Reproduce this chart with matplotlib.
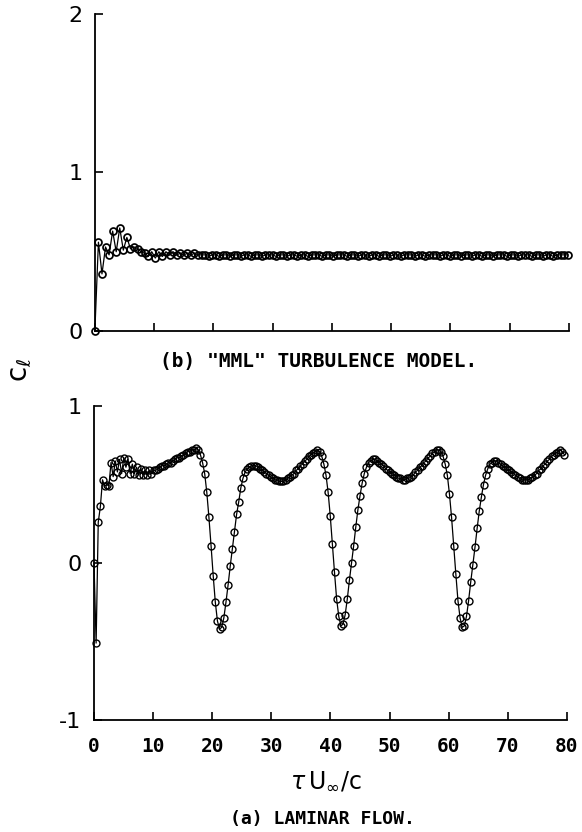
"""Lift coefficient history c_l vs tau U_inf / c.

Top panel: (b) "MML" turbulence model, bottom panel: (a) laminar flow.
Values were read off the printed figure (one entry per plotted marker).
"""

import matplotlib

matplotlib.use("Agg")
import matplotlib.pyplot as plt
import numpy as np

# the original prints "-1" with a plain hyphen
plt.rcParams["axes.unicode_minus"] = False

# sample spacing (in tau U_inf / c) between consecutive markers
DT_TURB = 0.6
DT_LAM = 0.36

# (b) MML turbulence model: start-up zig-zag, then flat at ~0.48
CL_TURB = [
    0.00, 0.56, 0.36, 0.53, 0.48, 0.63, 0.50, 0.65, 0.51, 0.59,
    0.52, 0.53, 0.52, 0.50, 0.49, 0.47, 0.50, 0.46, 0.50, 0.47,
    0.50, 0.48, 0.50, 0.48, 0.49, 0.48, 0.49, 0.48, 0.49, 0.48,
    0.48, 0.48, 0.47, 0.48, 0.48, 0.47, 0.48, 0.48, 0.47, 0.48, 0.48, 0.47, 0.48,
    0.48, 0.47, 0.48, 0.48, 0.47, 0.48, 0.48, 0.48, 0.47, 0.48, 0.48, 0.47, 0.48,
    0.48, 0.47, 0.48, 0.48, 0.47, 0.48, 0.48, 0.48, 0.47, 0.48, 0.48, 0.47, 0.48,
    0.48, 0.48, 0.47, 0.48, 0.48, 0.47, 0.48, 0.48, 0.47, 0.48, 0.48, 0.47, 0.48,
    0.48, 0.47, 0.48, 0.48, 0.47, 0.48, 0.48, 0.48, 0.47, 0.48, 0.48, 0.47, 0.48,
    0.48, 0.48, 0.47, 0.48, 0.48, 0.47, 0.48, 0.48, 0.47, 0.48, 0.48, 0.47, 0.48,
    0.48, 0.47, 0.48, 0.48, 0.47, 0.48, 0.48, 0.48, 0.47, 0.48, 0.48, 0.47, 0.48,
    0.48, 0.48, 0.47, 0.48, 0.48, 0.47, 0.48, 0.48, 0.47, 0.48, 0.48, 0.48, 0.48,
]

# (a) laminar flow: start-up, then periodic shedding (period ~20.5)
CL_LAM = [
    # start-up, t = 0 .. 17.3
    0.00, -0.51, 0.26, 0.36, 0.53, 0.49, 0.50, 0.49, 0.64, 0.55,
    0.65, 0.58, 0.66, 0.57, 0.67, 0.61, 0.66, 0.57, 0.63, 0.57,
    0.61, 0.56, 0.60, 0.56, 0.59, 0.56, 0.59, 0.57, 0.59, 0.59,
    0.60, 0.61, 0.62, 0.62, 0.63, 0.64, 0.64, 0.65, 0.66, 0.67,
    0.67, 0.68, 0.69, 0.70, 0.71, 0.71, 0.72, 0.72, 0.73,
    # first cycle
    0.72, 0.69, 0.64, 0.57, 0.45, 0.29, 0.11, -0.08, -0.25, -0.37,
    -0.42, -0.41, -0.35, -0.25, -0.14, -0.02, 0.09, 0.20, 0.31, 0.39,
    0.48, 0.54, 0.58, 0.60, 0.61, 0.62, 0.62, 0.62, 0.61, 0.60,
    0.59, 0.58, 0.57, 0.56, 0.55, 0.54, 0.53, 0.53, 0.52, 0.52,
    0.52, 0.53, 0.54, 0.55, 0.56, 0.57, 0.59, 0.60, 0.62, 0.63,
    0.65, 0.66, 0.68, 0.69, 0.70, 0.71, 0.72,
    # second cycle
    0.71, 0.68, 0.63, 0.56, 0.45, 0.30, 0.12, -0.06, -0.23, -0.34,
    -0.40, -0.39, -0.33, -0.23, -0.11, 0.00, 0.11, 0.23, 0.34, 0.43,
    0.51, 0.57, 0.61, 0.64, 0.65, 0.66, 0.66, 0.65, 0.64, 0.63,
    0.62, 0.60, 0.59, 0.58, 0.57, 0.56, 0.55, 0.54, 0.54, 0.53,
    0.53, 0.54, 0.54, 0.55, 0.56, 0.58, 0.59, 0.61, 0.62, 0.64,
    0.65, 0.67, 0.68, 0.70, 0.71, 0.72, 0.72,
    # third cycle
    0.71, 0.68, 0.63, 0.56, 0.44, 0.29, 0.11, -0.07, -0.24, -0.35,
    -0.41, -0.40, -0.34, -0.24, -0.12, -0.01, 0.10, 0.22, 0.33, 0.42,
    0.50, 0.56, 0.60, 0.63, 0.64, 0.65, 0.65, 0.64, 0.63, 0.62,
    0.61, 0.60, 0.59, 0.58, 0.57, 0.56, 0.55, 0.54, 0.53, 0.53,
    0.53, 0.53, 0.54, 0.55, 0.56, 0.57, 0.59, 0.60, 0.62, 0.63,
    0.65, 0.66, 0.68, 0.69, 0.70, 0.71, 0.72,
    # tail
    0.71, 0.69,
]

X_TICKS = [0, 10, 20, 30, 40, 50, 60, 70, 80]
Y_TICKS_TURB = [0, 1, 2]
Y_TICKS_LAM = [-1, 0, 1]

MONO = "DejaVu Sans Mono"


def _style_axes(ax, yticks, ylim):
    ax.set_xlim(0, 80)
    ax.set_ylim(*ylim)
    ax.set_xticks(X_TICKS)
    ax.set_yticks(yticks)
    for side in ("top", "right"):
        ax.spines[side].set_visible(False)
    for side in ("left", "bottom"):
        ax.spines[side].set_linewidth(1.3)
    ax.tick_params(direction="in", length=6, width=1.2)
    ax.tick_params(axis="y", labelsize=16, pad=9)
    ax.tick_params(axis="x", labelsize=14, pad=12)


def _plot_series(ax, dt, cl, mew):
    t = np.arange(len(cl)) * dt
    ax.plot(
        t,
        cl,
        color="black",
        linewidth=0.9,
        marker="o",
        markersize=5,
        markerfacecolor="none",
        markeredgecolor="black",
        markeredgewidth=mew,
        clip_on=False,
    )


def main() -> None:
    fig = plt.figure(figsize=(5.82, 8.32), dpi=100)

    # top: (b) turbulence model
    ax_b = fig.add_axes([0.163, 0.6022, 0.8144, 0.381])
    _plot_series(ax_b, DT_TURB, CL_TURB, 1.25)
    _style_axes(ax_b, Y_TICKS_TURB, (0, 2))
    ax_b.set_xticklabels([])

    # bottom: (a) laminar
    ax_a = fig.add_axes([0.1615, 0.1346, 0.8127, 0.3774])
    _plot_series(ax_a, DT_LAM, CL_LAM, 1.0)
    _style_axes(ax_a, Y_TICKS_LAM, (-1, 1))
    for lab in ax_a.get_xticklabels():
        lab.set_family(MONO)
        lab.set_weight("bold")

    fig.text(319 / 582, 1 - 361 / 832, '(b) "MML" TURBULENCE MODEL.',
             ha="center", va="center", fontsize=14, family=MONO,
             weight="bold")
    fig.text(20 / 582, 1 - 370 / 832, r"$\mathrm{c}_\ell$", rotation=90,
             ha="center", va="center", fontsize=20)
    fig.text(326 / 582, 1 - 787 / 832, r"$\tau\,\mathrm{U}_{\infty}/\mathrm{c}$",
             ha="center", va="baseline", fontsize=17)
    fig.text(322 / 582, 1 - 819 / 832, "(a) LAMINAR FLOW.",
             ha="center", va="center", fontsize=13, family=MONO,
             weight="bold")

    fig.savefig("out.png", dpi=100)
    plt.close(fig)


if __name__ == "__main__":
    main()
